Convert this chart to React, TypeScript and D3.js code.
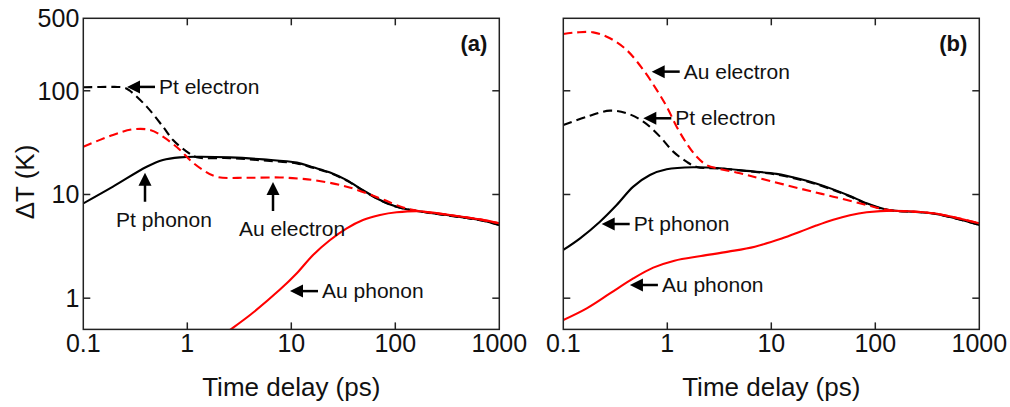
import React from 'react';
import * as d3 from 'd3';

// ---------- data ----------
const xTickValues = [0.1, 1, 10, 100, 1000];
const xTickLabels = ['0.1', '1', '10', '100', '1000'];
const yTickValues = [500, 100, 10, 1];
const yTickLabels = ['500', '100', '10', '1'];

// Panel (a)
const aPtElecT = [0.1, 0.2, 0.25, 0.281, 0.407, 0.583, 0.729, 0.986, 1.23, 2.58, 5.35, 11.3, 16.2, 23.6, 34.1, 48.9, 71.3, 103, 161, 312, 652, 1000];
const aPtElecV = [108, 109, 107, 100, 70.3, 45.1, 33.5, 25.9, 22.9, 22.4, 21.3, 19.9, 18.1, 16.1, 13.6, 10.9, 8.8, 7.6, 6.92, 6.3, 5.65, 5.08];
const aPtPhonT = [0.1, 0.193, 0.407, 0.583, 0.851, 1.23, 2.58, 5.35, 11.3, 16.2, 23.6, 34.1, 48.9, 71.3, 103, 161, 312, 652, 1000];
const aPtPhonV = [8.2, 11.9, 18.5, 21.5, 22.8, 23.1, 22.8, 21.8, 20.3, 18.3, 16.3, 13.75, 11.0, 8.85, 7.62, 6.93, 6.34, 5.67, 5.08];
const aAuElecT = [0.1, 0.193, 0.301, 0.438, 0.583, 0.851, 1.06, 1.42, 1.92, 3.72, 7.78, 12.1, 16.2, 34.1, 71.3, 119, 173, 312, 652, 1000];
const aAuElecV = [28.9, 37.5, 42.5, 41.9, 36.1, 26.9, 21.5, 17.2, 14.8, 14.5, 14.6, 14.2, 13.8, 11.9, 9.18, 7.5, 6.89, 6.4, 5.75, 5.27];
const aAuPhonT = [1.8, 2.4, 4.1, 7.78, 11.3, 16.2, 23.6, 34.1, 48.9, 71.3, 103, 173, 312, 652, 1000];
const aAuPhonV = [0.38, 0.47, 0.7, 1.21, 1.74, 2.61, 3.64, 4.72, 5.68, 6.34, 6.73, 6.9, 6.4, 5.75, 5.27];

// Panel (b)
const bPtElecT = [0.1, 0.168, 0.281, 0.407, 0.588, 0.851, 1.14, 1.53, 1.92, 3.21, 5.8, 11.2, 18.9, 27.4, 39.4, 57.1, 82.6, 119, 149, 361, 1000];
const bPtElecV = [46.8, 56.2, 64.3, 60.7, 50.4, 36.1, 25.9, 20.7, 18.4, 17.8, 16.8, 15.6, 13.9, 12.5, 11.05, 9.55, 8.12, 7.22, 6.98, 6.55, 5.08];
const bPtPhonT = [0.1, 0.145, 0.225, 0.326, 0.471, 0.681, 0.987, 1.78, 3.21, 5.8, 11.2, 18.9, 27.4, 39.4, 57.1, 82.6, 119, 149, 361, 1000];
const bPtPhonV = [2.92, 3.78, 5.47, 7.92, 11.9, 15.4, 17.5, 18.3, 17.9, 16.9, 15.8, 14.1, 12.7, 11.2, 9.66, 8.22, 7.28, 7.0, 6.55, 5.08];
const bAuElecT = [0.1, 0.135, 0.194, 0.281, 0.407, 0.588, 0.791, 0.987, 1.23, 1.53, 1.92, 2.39, 3.21, 5.0, 7.78, 18.9, 39.4, 82.6, 119, 149, 361, 1000];
const bAuElecV = [353, 366, 366, 321, 247, 159, 102, 70.3, 45.1, 31.2, 23.1, 19.2, 17.6, 16.0, 14.3, 11.4, 9.53, 7.91, 7.2, 6.98, 6.59, 5.27];
const bAuPhonT = [0.1, 0.168, 0.281, 0.471, 0.733, 1.17, 2.11, 3.86, 6.95, 12.6, 18.9, 27, 39.4, 57, 82.6, 149, 361, 1000];
const bAuPhonV = [0.616, 0.798, 1.11, 1.55, 1.97, 2.3, 2.55, 2.81, 3.14, 3.76, 4.37, 5.01, 5.71, 6.31, 6.73, 6.98, 6.59, 5.27];

// annotations: label, arrow direction, anchor (t, T) of arrow tip
const aNotes = [
  { text: 'Pt electron', dir: 'left', t: 0.263, v: 109 },
  { text: 'Pt phonon', dir: 'up', t: 0.392, v: 16.2 },
  { text: 'Au electron', dir: 'up', t: 6.67, v: 13.2 },
  { text: 'Au phonon', dir: 'left', t: 9.72, v: 1.17 },
];
const bNotes = [
  { text: 'Au electron', dir: 'left', t: 0.708, v: 153 },
  { text: 'Pt electron', dir: 'left', t: 0.588, v: 54.3 },
  { text: 'Pt phonon', dir: 'left', t: 0.234, v: 5.19 },
  { text: 'Au phonon', dir: 'left', t: 0.437, v: 1.34 },
];

// ---------- layout ----------
const W = 1010;
const H = 407;
const TOP = 18.3;
const BOTTOM = 329.4;
const FONT = "'Liberation Sans', Arial, Helvetica, sans-serif";
const RED = '#ff0000';
const BLACK = '#000000';

type Series = { t: number[]; v: number[]; color: string; dashed: boolean };
type Note = { text: string; dir: string; t: number; v: number };

function Panel({ id, x0, x1, series, notes, showY, tag }: { id: string; x0: number; x1: number; series: Series[]; notes: Note[]; showY: boolean; tag: string }) {
  const x = d3.scaleLog().domain([0.1, 1000]).range([x0, x1]);
  const y = d3.scaleLog().domain([0.5, 500]).range([BOTTOM, TOP]);
  const line = d3
    .line<[number, number]>()
    .x((d) => x(d[0]))
    .y((d) => y(d[1]))
    .curve(d3.curveCatmullRom.alpha(0.5));
  const tickLen = 7;
  const innerX = xTickValues.slice(1, -1);
  const innerY = [100, 10, 1];
  return (
    <g>
      <defs>
        <clipPath id={id}>
          <rect x={x0} y={TOP} width={x1 - x0} height={BOTTOM - TOP} />
        </clipPath>
      </defs>
      <g clipPath={`url(#${id})`}>
        {series.map((s, i) => (
          <path
            key={i}
            d={line(s.t.map((t, j) => [t, s.v[j]] as [number, number])) || ''}
            fill="none"
            stroke={s.color}
            strokeWidth={2.1}
            strokeDasharray={s.dashed ? '9,5' : undefined}
          />
        ))}
      </g>
      {/* frame */}
      <rect x={x0} y={TOP} width={x1 - x0} height={BOTTOM - TOP} fill="none" stroke="#222" strokeWidth={1.5} />
      {innerX.map((t) => (
        <g key={'xt' + t}>
          <line x1={x(t)} x2={x(t)} y1={BOTTOM} y2={BOTTOM - tickLen} stroke="#222" strokeWidth={1.5} />
          <line x1={x(t)} x2={x(t)} y1={TOP} y2={TOP + tickLen} stroke="#222" strokeWidth={1.5} />
        </g>
      ))}
      {innerY.map((v) => (
        <g key={'yt' + v}>
          <line x1={x0} x2={x0 + tickLen} y1={y(v)} y2={y(v)} stroke="#222" strokeWidth={1.5} />
          <line x1={x1} x2={x1 - tickLen} y1={y(v)} y2={y(v)} stroke="#222" strokeWidth={1.5} />
        </g>
      ))}
      {xTickValues.map((t, i) => (
        <text key={'xl' + t} x={x(t)} y={352} textAnchor="middle" fontSize={25} fontFamily={FONT} fill="#111">
          {xTickLabels[i]}
        </text>
      ))}
      {showY &&
        yTickValues.map((v, i) => (
          <text key={'yl' + v} x={x0 - 4} y={y(v) + 9} textAnchor="end" fontSize={25} fontFamily={FONT} fill="#111">
            {yTickLabels[i]}
          </text>
        ))}
      <text x={(x0 + x1) / 2} y={396} textAnchor="middle" fontSize={26} fontFamily={FONT} fill="#111">
        Time delay (ps)
      </text>
      <text x={x1 - 12} y={51} textAnchor="end" fontSize={22} fontWeight="bold" fontFamily={FONT} fill="#111">
        {tag}
      </text>
      {notes.map((n, i) => {
        const px = x(n.t);
        const py = y(n.v);
        if (n.dir === 'left') {
          return (
            <g key={'n' + i}>
              <polygon points={`${px},${py} ${px + 13},${py - 6.5} ${px + 13},${py + 6.5}`} fill="#000" />
              <line x1={px + 12} x2={px + 28} y1={py} y2={py} stroke="#000" strokeWidth={2.5} />
              <text x={px + 32} y={py + 7} fontSize={21} fontFamily={FONT} fill="#111">
                {n.text}
              </text>
            </g>
          );
        }
        return (
          <g key={'n' + i}>
            <polygon points={`${px},${py} ${px - 6.5},${py + 13} ${px + 6.5},${py + 13}`} fill="#000" />
            <line x1={px} x2={px} y1={py + 12} y2={py + 29} stroke="#000" strokeWidth={2.5} />
            <text x={px + 19} y={py + 54} textAnchor="middle" fontSize={21} fontFamily={FONT} fill="#111">
              {n.text}
            </text>
          </g>
        );
      })}
    </g>
  );
}

export default function App() {
  const aSeries: Series[] = [
    { t: aPtPhonT, v: aPtPhonV, color: BLACK, dashed: false },
    { t: aPtElecT, v: aPtElecV, color: BLACK, dashed: true },
    { t: aAuElecT, v: aAuElecV, color: RED, dashed: true },
    { t: aAuPhonT, v: aAuPhonV, color: RED, dashed: false },
  ];
  const bSeries: Series[] = [
    { t: bPtPhonT, v: bPtPhonV, color: BLACK, dashed: false },
    { t: bPtElecT, v: bPtElecV, color: BLACK, dashed: true },
    { t: bAuElecT, v: bAuElecV, color: RED, dashed: true },
    { t: bAuPhonT, v: bAuPhonV, color: RED, dashed: false },
  ];
  return (
    <svg width={W} height={H} viewBox={`0 0 ${W} ${H}`} style={{ position: 'absolute', left: 0, top: 0, background: '#fff' }}>
      <rect x={0} y={0} width={W} height={H} fill="#fff" />
      <text transform="translate(34,182) rotate(-90)" textAnchor="middle" fontSize={26} fontFamily={FONT} fill="#111">
        ΔT (K)
      </text>
      <Panel id="clipA" x0={83.3} x1={499.3} series={aSeries} notes={aNotes} showY={true} tag="(a)" />
      <Panel id="clipB" x0={563.3} x1={979.3} series={bSeries} notes={bNotes} showY={false} tag="(b)" />
    </svg>
  );
}
